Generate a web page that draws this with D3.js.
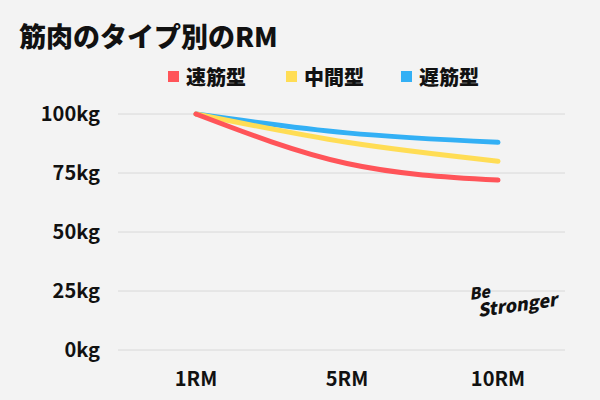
<!DOCTYPE html><html><head><meta charset="utf-8"><script src="https://cdn.jsdelivr.net/npm/d3@7"></script>
<style>body{margin:0;background:#f3f3f3}text{font-family:"Noto Sans CJK JP","Noto Sans",sans-serif}</style></head><body>
<svg id="c" width="600" height="400"></svg>
<script>
const categories=["1RM","5RM","10RM"];
const seriesNames=["速筋型","中間型","遅筋型"];
const fast=[100,79,72];
const mid=[100,88,80];
const slow=[100,92,88];
const yTicks=[0,25,50,75,100];
const colors=["#ff5459","#ffdd55","#33b0f5"];
const svg=d3.select("#c");
svg.append("rect").attr("width",600).attr("height",400).attr("fill","#f3f3f3");
const x=d3.scalePoint().domain(categories).range([196,498]);
const y=d3.scaleLinear().domain([0,100]).range([350,114]);
svg.append("text").attr("x",19).attr("y",47).attr("font-size",27).attr("font-weight",900).attr("fill","#111").text("筋肉のタイプ別のRM");
const g=svg.append("g");
yTicks.forEach(t=>{
 g.append("line").attr("x1",118).attr("x2",565).attr("y1",y(t)).attr("y2",y(t)).attr("stroke","#d8d8d8").attr("stroke-width",1);
 g.append("text").attr("x",100).attr("y",y(t)+7).attr("text-anchor","end").attr("font-size",20).attr("font-weight",700).attr("fill","#111").text(t+"kg");
});
categories.forEach(c=>g.append("text").attr("x",x(c)).attr("y",386).attr("text-anchor","middle").attr("font-size",20).attr("font-weight",700).attr("fill","#111").text(c));
const line=d3.line().x((d,i)=>x(categories[i])).y(d=>y(d)).curve(d3.curveMonotoneX);
[slow,mid,fast].forEach((s,k)=>{const i=2-k;
 svg.append("path").attr("d",line(s)).attr("fill","none").attr("stroke",colors[i]).attr("stroke-width",5).attr("stroke-linecap","round");});
const lx=[168,286,401];
seriesNames.forEach((n,i)=>{
 svg.append("rect").attr("x",lx[i]).attr("y",71).attr("width",11).attr("height",11).attr("fill",colors[i]);
 svg.append("text").attr("x",lx[i]+18).attr("y",85).attr("font-size",20).attr("font-weight",900).attr("fill","#111").text(n);
});
const lg=svg.append("g").attr("transform","translate(470,300) rotate(-8)");
lg.append("text").attr("x",0).attr("y",0).attr("font-size",16).attr("font-weight",900).attr("font-style","italic").attr("fill","#111").text("Be");
lg.append("text").attr("x",6).attr("y",18).attr("font-size",18).attr("font-weight",900).attr("font-style","italic").attr("fill","#111").text("Stronger");
</script></body></html>
